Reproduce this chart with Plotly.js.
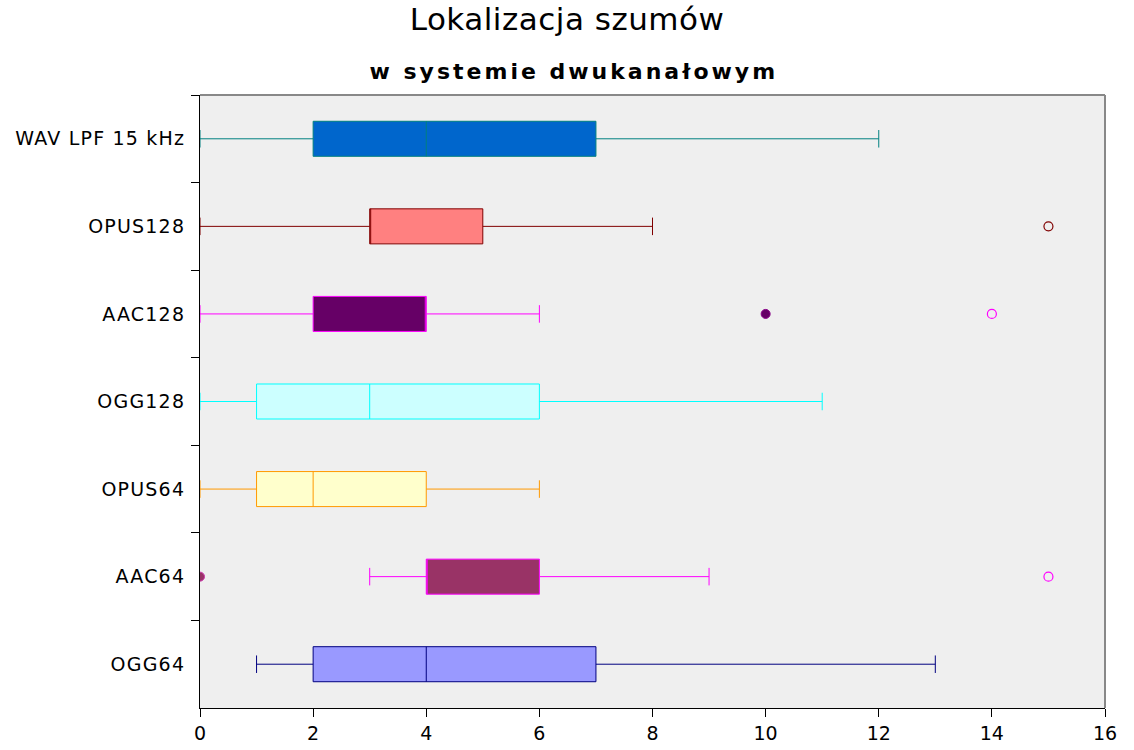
<!DOCTYPE html>
<html>
<head>
<meta charset="utf-8">
<script src="https://cdn.plot.ly/plotly-3.0.1.min.js"></script>
<style>
html,body{margin:0;padding:0;background:#fff;}
#chart{width:1134px;height:750px;}
#chart .annotation-text{letter-spacing:3px;}
#chart .ytick text{letter-spacing:1.2px;}
#chart .gtitle{letter-spacing:0.5px;}
</style>
</head>
<body>
<div id="chart"></div>
<script>
// ---- data ----
var categories = ["WAV LPF 15 kHz", "OPUS128", "AAC128", "OGG128", "OPUS64", "AAC64", "OGG64"];
var lowerWhisker = [0, 0, 0, 0, 0, 3, 1];
var q1Values     = [2, 3, 2, 1, 1, 4, 2];
var medianValues = [4, 3, 4, 3, 2, 4, 4];
var q3Values     = [7, 5, 4, 6, 4, 6, 7];
var upperWhisker = [12, 8, 6, 11, 6, 9, 13];
// outliers (hollow = mild, filled = extreme)
var hollowOutlierCats = ["OPUS128", "AAC128", "AAC64"];
var hollowOutlierVals = [15, 14, 15];
var filledOutlierCats = ["AAC128", "AAC64"];
var filledOutlierVals = [10, 0];

// ---- styles ----
var fillColors = ["#0066cc", "#ff8080", "#660066", "#ccffff", "#ffffcc", "#993366", "#9999ff"];
var lineColors = ["#008080", "#800000", "#ff00ff", "#00ffff", "#ff9900", "#ff00ff", "#000080"];
function colorOf(cat, arr) { return arr[categories.indexOf(cat)]; }

var traces = categories.map(function (c, i) {
  return {
    type: "box",
    orientation: "h",
    name: c,
    y: [c],
    q1: [q1Values[i]],
    median: [medianValues[i]],
    q3: [q3Values[i]],
    lowerfence: [lowerWhisker[i]],
    upperfence: [upperWhisker[i]],
    width: 0.4,
    whiskerwidth: 0.5,
    fillcolor: fillColors[i],
    line: { color: lineColors[i], width: 1 },
    boxpoints: false,
    hoverinfo: "x"
  };
});

traces.push({
  type: "scatter",
  mode: "markers",
  x: hollowOutlierVals,
  y: hollowOutlierCats,
  marker: {
    symbol: "circle-open",
    size: 9,
    color: hollowOutlierCats.map(function (c) { return colorOf(c, lineColors); }),
    line: { width: 1.2 }
  },
  hoverinfo: "x"
});
traces.push({
  type: "scatter",
  mode: "markers",
  x: filledOutlierVals,
  y: filledOutlierCats,
  marker: {
    symbol: "circle",
    size: 9,
    color: filledOutlierCats.map(function (c) { return colorOf(c, fillColors); }),
    line: { width: 1, color: filledOutlierCats.map(function (c) { return c === "AAC128" ? "#880088" : "#cc33aa"; }) }
  },
  hoverinfo: "x"
});

var layout = {
  width: 1134,
  height: 750,
  margin: { l: 200, r: 29, t: 95, b: 42, pad: 0 },
  paper_bgcolor: "#ffffff",
  plot_bgcolor: "#efefef",
  showlegend: false,
  font: { family: "DejaVu Sans, sans-serif", color: "#000000" },
  title: {
    text: "Lokalizacja szumów",
    font: { family: "DejaVu Sans, sans-serif", size: 31, color: "#000000" },
    x: 0.5, xref: "container", xanchor: "center",
    y: 1 - 19 / 750, yref: "container", yanchor: "middle"
  },
  annotations: [{
    text: "<b>w systemie dwukanałowym</b>",
    xref: "paper", yref: "paper",
    x: (574 - 200) / 905, y: 1 + (95 - 71) / 613,
    xanchor: "center", yanchor: "middle",
    showarrow: false,
    font: { family: "DejaVu Sans, sans-serif", size: 22, color: "#000000" }
  }],
  xaxis: {
    range: [0, 16],
    tickvals: [0, 2, 4, 6, 8, 10, 12, 14, 16],
    ticks: "outside",
    ticklen: 8,
    tickcolor: "#000000",
    showline: true,
    linecolor: "#000000",
    linewidth: 1,
    showgrid: false,
    zeroline: false,
    tickfont: { size: 19, family: "DejaVu Sans, sans-serif" }
  },
  yaxis: {
    type: "category",
    categoryorder: "array",
    categoryarray: categories,
    range: [6.5, -0.5],
    tickson: "boundaries",
    ticks: "outside",
    ticklen: 8,
    tickcolor: "#000000",
    showline: true,
    linecolor: "#000000",
    linewidth: 1,
    showgrid: false,
    zeroline: false,
    ticklabelstandoff: 10,
    tickfont: { size: 19, family: "DejaVu Sans, sans-serif" }
  },
  shapes: [
    { type: "line", xref: "paper", yref: "paper", x0: 0, x1: 1, y0: 1, y1: 1, line: { color: "#888888", width: 2 } },
    { type: "line", xref: "paper", yref: "paper", x0: 1, x1: 1, y0: 0, y1: 1, line: { color: "#888888", width: 2 } }
  ]
};

Plotly.newPlot("chart", traces, layout, { displayModeBar: false, staticPlot: true });
</script>
</body>
</html>
